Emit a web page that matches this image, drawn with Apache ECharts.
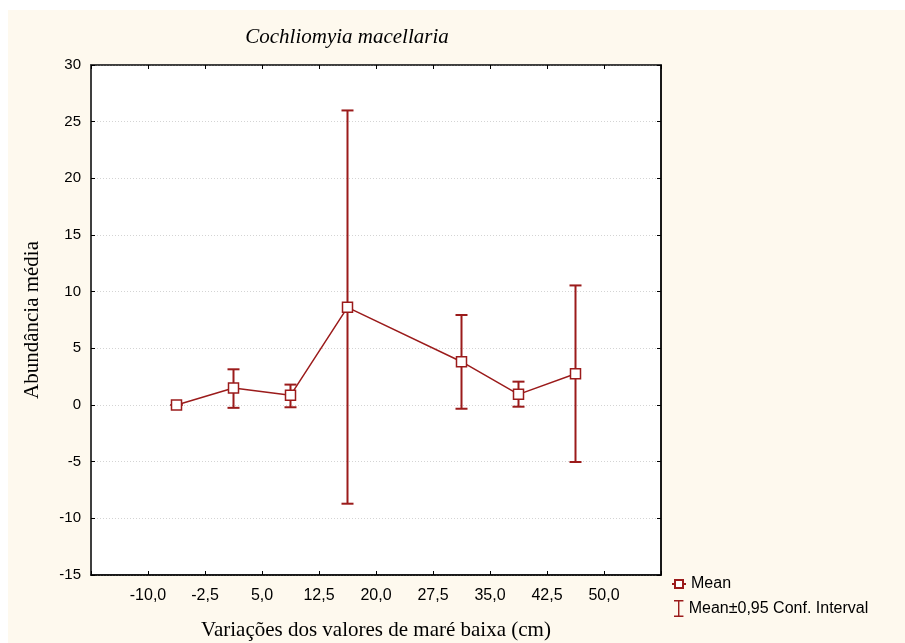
<!DOCTYPE html>
<html>
<head>
<meta charset="utf-8">
<script src="https://cdn.jsdelivr.net/npm/echarts@6/dist/echarts.min.js"></script>
<style>html,body{margin:0;padding:0;background:#fff;}#c{width:905px;height:643px;}</style>
</head>
<body>
<div id="c"></div>
<script>
var xValues = [-6.25, 1.25, 8.75, 16.25, 31.25, 38.75, 46.25];
var means   = [0.0, 1.5, 0.85, 8.62, 3.82, 0.94, 2.76];
var ciLow   = [0.0, -0.25, -0.2, -8.71, -0.33, -0.15, -5.03];
var ciHigh  = [0.0, 3.15, 1.8, 25.99, 7.94, 2.06, 10.55];
var titleText = 'Cochliomyia macellaria';
var xTitle = 'Variações dos valores de maré baixa (cm)';
var yTitle = 'Abundância média';
var seriesNames = ['Mean', 'Mean±0,95 Conf. Interval'];

var RED = '#9b1b1b';
var chart = echarts.init(document.getElementById('c'), null, {renderer: 'canvas'});

var meanData = xValues.map(function (x, i) { return [x, means[i]]; });
var ciData = xValues.map(function (x, i) { return [x, ciLow[i], ciHigh[i]]; });

function fmtX(v) {
  if (Math.abs(v - (-17.5)) < 1e-6 || Math.abs(v - 57.5) < 1e-6) return '';
  return v.toFixed(1).replace('.', ',');
}

var option = {
  animation: false,
  backgroundColor: '#ffffff',
  graphic: [{
    type: 'rect', z: -10, silent: true,
    shape: {x: 8, y: 10, width: 897, height: 633},
    style: {fill: '#fef9ee'}
  }],
  title: {
    text: titleText, left: 342, top: 22, textAlign: 'center',
    textStyle: {fontFamily: 'Liberation Serif', fontStyle: 'italic', fontWeight: 'normal', fontSize: 21, color: '#000'}
  },
  grid: {left: 91, top: 65, width: 570, height: 510, show: true, containLabel: false, outerBoundsMode: 'none',
    backgroundColor: '#ffffff', borderColor: '#333', borderWidth: 1.5},
  legend: [{
    orient: 'vertical', left: 666, top: 571,
    itemWidth: 14, itemHeight: 10,
    textStyle: {fontFamily: 'Liberation Sans', fontSize: 16, color: '#000'},
    data: [{name: seriesNames[0]}]
  }, {
    orient: 'vertical', left: 669, top: 595,
    itemWidth: 10, itemHeight: 17,
    textStyle: {fontFamily: 'Liberation Sans', fontSize: 16, color: '#000'},
    data: [{name: seriesNames[1], icon: 'path://M0,0 L10,0 L10,1.5 L5.75,1.5 L5.75,16.5 L10,16.5 L10,18 L0,18 L0,16.5 L4.25,16.5 L4.25,1.5 L0,1.5 Z', itemStyle: {color: RED}}]
  }],
  xAxis: [{
    type: 'value', min: -17.5, max: 57.5, interval: 7.5, position: 'bottom',
    name: xTitle, nameLocation: 'middle', nameGap: 45,
    nameTextStyle: {fontFamily: 'Liberation Serif', fontSize: 21, color: '#000'},
    axisLine: {show: true, onZero: false, lineStyle: {color: '#000', width: 1.5}},
    axisTick: {show: true, inside: true, length: 4, lineStyle: {color: '#000'}},
    axisLabel: {formatter: fmtX, fontFamily: 'Liberation Sans', fontSize: 16, color: '#000', margin: 13},
    splitLine: {show: false}
  }, {
    type: 'value', min: -17.5, max: 57.5, interval: 7.5, position: 'top',
    axisLine: {show: true, onZero: false, lineStyle: {color: '#333', width: 1.5}},
    axisTick: {show: true, inside: true, length: 4, lineStyle: {color: '#000'}},
    axisLabel: {show: false}, splitLine: {show: false}
  }],
  yAxis: [{
    type: 'value', min: -15, max: 30, interval: 5, position: 'left',
    name: yTitle, nameLocation: 'middle', nameGap: 48, nameRotate: 90,
    nameTextStyle: {fontFamily: 'Liberation Serif', fontSize: 21, color: '#000'},
    axisLine: {show: true, onZero: false, lineStyle: {color: '#333', width: 1.5}},
    axisTick: {show: true, inside: true, length: 4, lineStyle: {color: '#000'}},
    axisLabel: {fontFamily: 'Liberation Sans', fontSize: 15, color: '#000', margin: 10},
    splitLine: {show: true, lineStyle: {color: '#d4d4d4', type: [1, 2], width: 1}}
  }, {
    type: 'value', min: -15, max: 30, interval: 5, position: 'right',
    axisLine: {show: true, onZero: false, lineStyle: {color: '#000', width: 1.5}},
    axisTick: {show: true, inside: true, length: 4, lineStyle: {color: '#000'}},
    axisLabel: {show: false}, splitLine: {show: false}
  }],
  series: [{
    name: seriesNames[1], type: 'custom', xAxisIndex: 0, yAxisIndex: 0, z: 2,
    itemStyle: {color: RED},
    data: ciData,
    renderItem: function (params, api) {
      var x = api.value(0);
      var lo = api.coord([x, api.value(1)]);
      var hi = api.coord([x, api.value(2)]);
      var hw = 6;
      var st = {stroke: RED, lineWidth: 2, fill: null};
      return {type: 'group', children: [
        {type: 'line', shape: {x1: lo[0], y1: lo[1], x2: hi[0], y2: hi[1]}, style: st},
        {type: 'line', shape: {x1: lo[0] - hw, y1: lo[1], x2: lo[0] + hw, y2: lo[1]}, style: st},
        {type: 'line', shape: {x1: hi[0] - hw, y1: hi[1], x2: hi[0] + hw, y2: hi[1]}, style: st}
      ]};
    }
  }, {
    name: seriesNames[0], type: 'line', xAxisIndex: 0, yAxisIndex: 0, z: 3,
    data: meanData, symbol: 'rect', symbolSize: 10, showAllSymbol: true,
    lineStyle: {color: RED, width: 1.5},
    itemStyle: {color: '#ffffff', borderColor: RED, borderWidth: 1.5}
  }]
};
chart.setOption(option);
</script>
</body>
</html>
